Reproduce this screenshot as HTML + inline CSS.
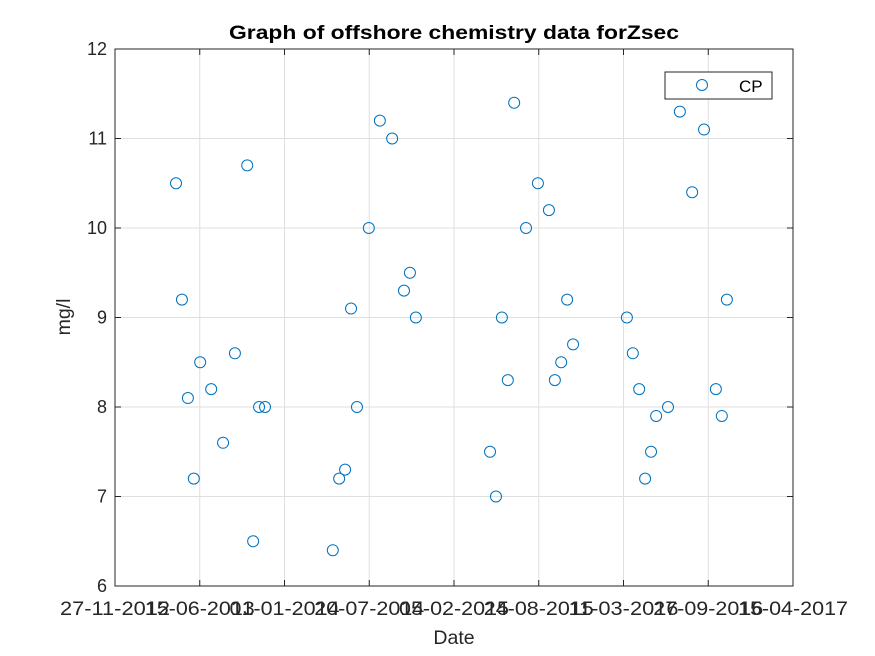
<!DOCTYPE html>
<html><head><meta charset="utf-8"><style>
body{margin:0;background:#fff}
svg{display:block;font-family:"Liberation Sans",Arial,sans-serif}
</style></head><body>
<svg id="chart" width="875" height="656" viewBox="0 0 875 656"></svg>
<script>
const xTickLabels=["27-11-2012","15-06-2013","01-01-2014","20-07-2014","05-02-2015","24-08-2015","11-03-2016","27-09-2016","15-04-2017"];
const xTickDays=[0,200,400,600,800,1000,1200,1400,1600];
const yTicks=[6,7,8,9,10,11,12];
const dayValues=[144,158,172,186,201,227,255,283,312,326,340,354,514,529,543,557,571,599,625,654,682,696,710,885,899,913,927,942,970,998,1024,1038,1053,1067,1081,1208,1222,1237,1251,1265,1277,1305,1333,1362,1390,1418,1432,1444];
const cpValues=[10.5,9.2,8.1,7.2,8.5,8.2,7.6,8.6,10.7,6.5,8.0,8.0,6.4,7.2,7.3,9.1,8.0,10.0,11.2,11.0,9.3,9.5,9.0,7.5,7.0,9.0,8.3,11.4,10.0,10.5,10.2,8.3,8.5,9.2,8.7,9.0,8.6,8.2,7.2,7.5,7.9,8.0,11.3,10.4,11.1,8.2,7.9,9.2];
const L=115,R=793,T=49,B=586;
const sx=d=>L+(d-0)/(1600-0)*(R-L);
const sy=v=>B-(v-6)/(12-6)*(B-T);
const NS="http://www.w3.org/2000/svg";
const svg=document.getElementById('chart');
function mk(tag,attrs,parent){const e=document.createElementNS(NS,tag);for(const k in attrs)e.setAttribute(k,attrs[k]);(parent||svg).appendChild(e);return e;}
const grid=mk('g',{});


xTickDays.forEach(d=>{mk('line',{x1:sx(d),x2:sx(d),y1:T,y2:B,stroke:'#dfdfdf','stroke-width':1},grid);});
yTicks.forEach(v=>{mk('line',{x1:L,x2:R,y1:sy(v),y2:sy(v),stroke:'#dfdfdf','stroke-width':1},grid);});
const box=mk('rect',{x:L,y:T,width:R-L,height:B-T,fill:'none',stroke:'#262626','stroke-width':1});


const xax=mk('g',{});


xTickDays.forEach((d,i)=>{
 mk('line',{x1:sx(d),x2:sx(d),y1:B,y2:B-6,stroke:'#262626'},xax);
 mk('line',{x1:sx(d),x2:sx(d),y1:T,y2:T+6,stroke:'#262626'},xax);
 const t=mk('text',{x:sx(d),y:B+29,'text-anchor':'middle','font-size':19.5,fill:'#262626',textLength:110,lengthAdjust:'spacingAndGlyphs'},xax);
 t.textContent=xTickLabels[i];
 
 
});
const yax=mk('g',{});


yTicks.forEach(v=>{
 mk('line',{x1:L,x2:L+6,y1:sy(v),y2:sy(v),stroke:'#262626'},yax);
 mk('line',{x1:R,x2:R-6,y1:sy(v),y2:sy(v),stroke:'#262626'},yax);
 const t=mk('text',{x:L-8,y:sy(v)+6,'text-anchor':'end','font-size':18,fill:'#262626'},yax);
 t.textContent=v;
 
 
});
const pts=mk('g',{});


dayValues.forEach((d,i)=>{
 const c=mk('circle',{cx:sx(d),cy:sy(cpValues[i]),r:5.5,fill:'none',stroke:'#0072bd','stroke-width':1},pts);
 
 
});
const title=mk('text',{x:(L+R)/2,y:39,'text-anchor':'middle','font-size':19.5,'font-weight':'bold',fill:'#000',textLength:450,lengthAdjust:'spacingAndGlyphs'});
title.textContent='Graph of offshore chemistry data forZsec';


const xl=mk('text',{x:(L+R)/2,y:644,'text-anchor':'middle','font-size':19.5,fill:'#262626'});
xl.textContent='Date';


const yl=mk('text',{x:0,y:0,'text-anchor':'middle','font-size':19.5,fill:'#262626',transform:'translate(70,317) rotate(-90)'});
yl.textContent='mg/l';


const lg=mk('g',{});


mk('rect',{x:665,y:72,width:107,height:27,fill:'#fff',stroke:'#262626'},lg);
mk('circle',{cx:702,cy:85,r:5.5,fill:'none',stroke:'#0072bd'},lg);
const lt=mk('text',{x:739,y:92,'font-size':17,fill:'#000'},lg);
lt.textContent='CP';


</script>
</body></html>
